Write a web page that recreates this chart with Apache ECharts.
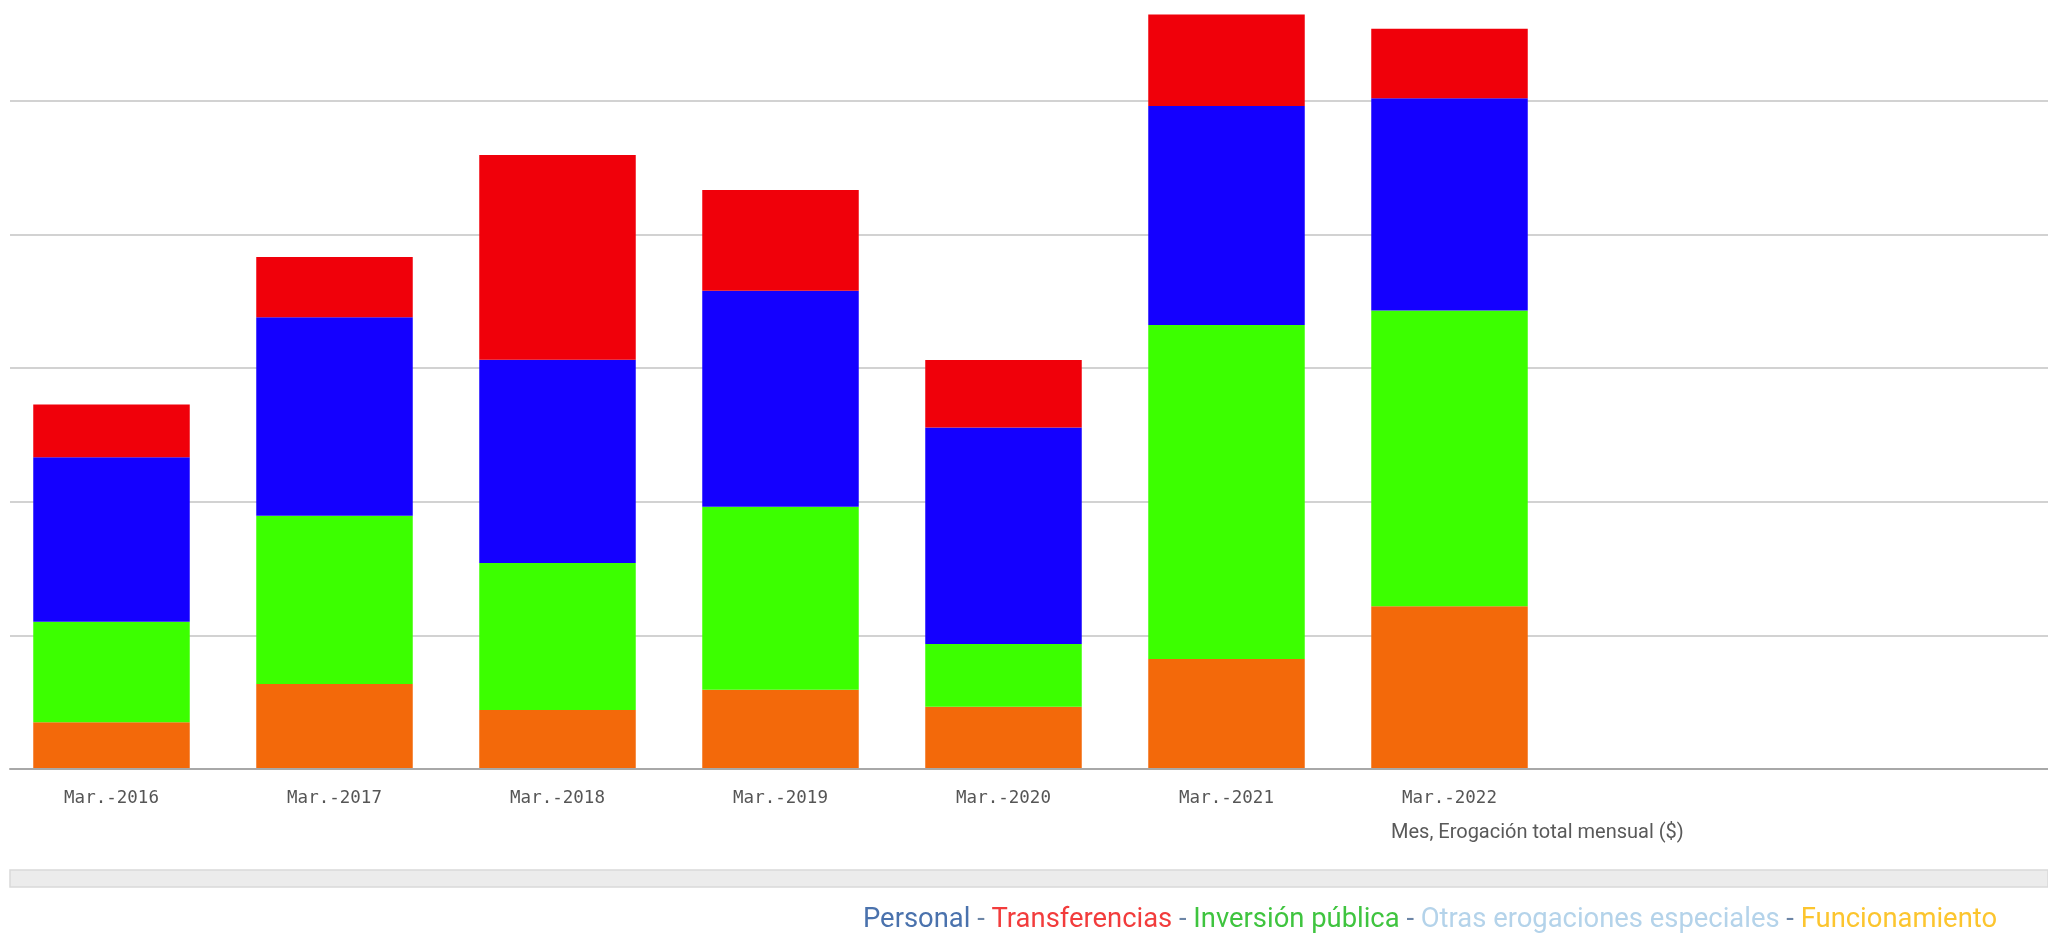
<!DOCTYPE html>
<html>
<head>
<meta charset="utf-8">
<script src="https://cdn.jsdelivr.net/npm/echarts@6/dist/echarts.min.js"></script>
<style>
html,body{margin:0;padding:0;background:#ffffff;}
#chart{width:2048px;height:934px;}
</style>
</head>
<body>
<div id="chart"></div>
<script>
// Categories (months)
const categories = ['Mar.-2016','Mar.-2017','Mar.-2018','Mar.-2019','Mar.-2020','Mar.-2021','Mar.-2022'];
// Stacked series values (arbitrary units; no value labels shown in the original)
const funcionamiento   = [35.0, 63.6, 44.2, 59.4, 46.6, 82.3, 121.8];   // orange (bottom)
const inversionPublica = [75.3, 126.0, 110.0, 136.9, 46.9, 250.0, 221.3]; // green
const personal         = [123.1, 148.5, 152.2, 161.7, 162.2, 163.9, 159.0]; // blue
const transferencias   = [39.4, 45.1, 153.2, 75.4, 50.4, 68.6, 51.9];  // red (top)
// Legend text items
const legendItems = ['Personal','Transferencias','Inversión pública','Otras erogaciones especiales','Funcionamiento'];
const axisTitle = 'Mes, Erogación total mensual ($)';

const chart = echarts.init(document.getElementById('chart'));

const colors = {orange:'#f3690a', green:'#3cff00', blue:'#1400ff', red:'#f0000a'};
const legendColors = ['#4a72ad','#f23c3c','#3fc43f','#b4d3ea','#fcc52e'];

const LFS = 27.4;
const richStyles = {d:{color:'#6c85a6', fontSize:LFS, fontFamily:'Roboto', fontWeight:'normal'}};
let legendText = '';
legendItems.forEach((name, i) => {
  const key = 'l' + i;
  richStyles[key] = {color: legendColors[i], fontSize: LFS, fontFamily: 'Roboto', fontWeight:'normal'};
  legendText += '{' + key + '|' + name + '}';
  if (i < legendItems.length - 1) legendText += '{d| - }';
});

const yMax = 575.6;
const common = {type:'bar', stack:'total', xAxisIndex:0, yAxisIndex:0, barWidth:156.5, emphasis:{disabled:true}};

chart.setOption({
  animation:false,
  backgroundColor:'#ffffff',
  title:[
    {text: axisTitle, left:1386, top:818, textStyle:{fontFamily:'Roboto', fontSize:20, fontWeight:'normal', color:'#595959'}},
    {text: legendText, left:858, top:902, textStyle:{rich: richStyles, fontSize:LFS, fontWeight:'normal', fontFamily:'Roboto'}}
  ],
  grid:[
    {left:-3.5, width:1564.5, top:0, bottom:165, containLabel:false},
    {left:10, right:0, top:0, bottom:165, containLabel:false}
  ],
  xAxis:[
    {type:'category', gridIndex:0, data:categories,
     axisLine:{show:false}, axisTick:{show:false}, splitLine:{show:false},
     axisLabel:{fontFamily:'DejaVu Sans Mono', fontSize:17.5, color:'#555555', margin:20}},
    {type:'value', gridIndex:1, min:0, max:1, z:5,
     axisLine:{show:true, lineStyle:{color:'#a8a8a8', width:2}},
     axisTick:{show:false}, axisLabel:{show:false}, splitLine:{show:false}}
  ],
  yAxis:[
    {type:'value', gridIndex:0, min:0, max:yMax, interval:100,
     axisLine:{show:false}, axisTick:{show:false}, axisLabel:{show:false}, splitLine:{show:false}},
    {type:'value', gridIndex:1, min:0, max:yMax, interval:100,
     axisLine:{show:false}, axisTick:{show:false}, axisLabel:{show:false},
     splitLine:{show:true, showMaxLine:false, lineStyle:{color:'#d2d2d2', width:2}}}
  ],
  graphic:[
    {type:'rect', shape:{x:10, y:870, width:2038, height:17},
     style:{fill:'#ececec', stroke:'#d9d9d9', lineWidth:1.5}, silent:true}
  ],
  series:[
    Object.assign({name:'Funcionamiento', data:funcionamiento, itemStyle:{color:colors.orange}}, common),
    Object.assign({name:'Inversión pública', data:inversionPublica, itemStyle:{color:colors.green}}, common),
    Object.assign({name:'Personal', data:personal, itemStyle:{color:colors.blue}}, common),
    Object.assign({name:'Transferencias', data:transferencias, itemStyle:{color:colors.red}}, common)
  ]
});
</script>
</body>
</html>
